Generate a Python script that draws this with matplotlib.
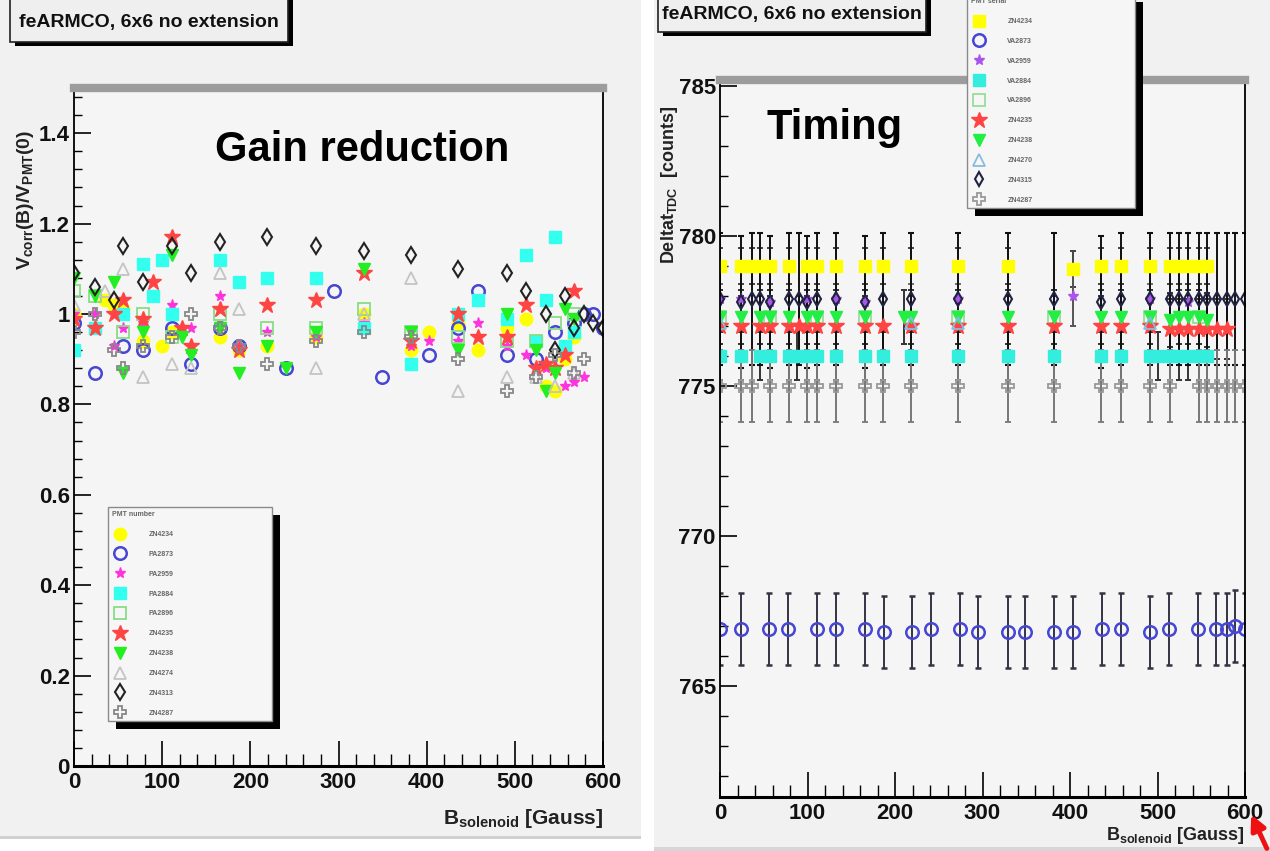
import matplotlib
matplotlib.use("Agg")
import matplotlib.pyplot as plt
from matplotlib.patches import Rectangle, FancyArrowPatch
from matplotlib.transforms import IdentityTransform
from matplotlib.ticker import MultipleLocator, FuncFormatter
from matplotlib.container import ErrorbarContainer

# ---------------- data ----------------
LABELS_GAIN = ["ZN4234", "PA2873", "PA2959", "PA2884", "PA2896",
               "ZN4235", "ZN4238", "ZN4274", "ZN4313", "ZN4287"]
LABELS_TIME = ["ZN4234", "VA2873", "VA2959", "VA2884", "VA2896",
               "ZN4235", "ZN4238", "ZN4270", "ZN4315", "ZN4287"]

# Gain reduction: B [Gauss] and V_corr(B)/V_PMT(0)
g_B_0 = [0, 35, 45, 56, 78, 100, 111, 166, 187, 219, 274, 329, 382, 403, 436, 458, 491, 513, 535, 546, 557, 567]
g_V_0 = [1.00, 1.03, 1.02, 1.01, 0.94, 0.93, 0.96, 0.95, 0.92, 0.93, 0.95, 1.00, 0.92, 0.96, 0.98, 0.92, 0.97, 0.99, 0.84, 0.83, 0.90, 0.95]
g_B_1 = [0, 24, 56, 78, 111, 133, 166, 187, 241, 295, 349, 403, 436, 458, 491, 524, 546, 567, 579, 589, 600]
g_V_1 = [0.98, 0.87, 0.93, 0.92, 0.97, 0.89, 0.97, 0.93, 0.88, 1.05, 0.86, 0.91, 0.97, 1.05, 0.91, 0.90, 0.96, 0.98, 1.00, 1.00, 0.97]
g_B_2 = [0, 24, 45, 56, 78, 111, 133, 166, 187, 219, 274, 329, 382, 403, 436, 458, 491, 513, 535, 557, 567, 579]
g_V_2 = [1.00, 1.00, 0.93, 0.97, 0.98, 1.02, 0.97, 1.04, 0.93, 0.96, 0.95, 0.98, 0.93, 0.94, 0.94, 0.98, 0.93, 0.91, 0.88, 0.84, 0.85, 0.86]
g_B_3 = [0, 24, 56, 78, 90, 100, 111, 166, 187, 219, 274, 329, 382, 436, 458, 491, 513, 524, 535, 546, 557, 567]
g_V_3 = [0.92, 0.97, 1.00, 1.11, 1.04, 1.12, 1.00, 1.12, 1.07, 1.08, 1.08, 0.97, 0.89, 1.00, 1.03, 0.99, 1.13, 0.94, 1.03, 1.17, 0.93, 0.96]
g_B_4 = [0, 24, 56, 78, 111, 166, 219, 274, 329, 382, 436, 491, 524, 546, 567]
g_V_4 = [1.05, 1.04, 0.96, 1.00, 0.95, 1.00, 0.97, 0.97, 1.01, 0.96, 0.95, 0.94, 0.94, 0.98, 1.00]
g_B_5 = [0, 24, 45, 56, 78, 90, 111, 122, 133, 166, 187, 219, 274, 329, 382, 436, 458, 491, 513, 524, 535, 546, 557, 567]
g_V_5 = [0.99, 0.97, 1.00, 1.03, 0.99, 1.07, 1.17, 0.97, 0.93, 1.01, 0.92, 1.02, 1.03, 1.09, 0.94, 1.00, 0.95, 0.95, 1.02, 0.88, 0.89, 0.88, 0.91, 1.05]
g_B_6 = [0, 24, 45, 56, 78, 111, 122, 133, 166, 187, 219, 241, 274, 329, 382, 436, 491, 524, 535, 546, 557, 567]
g_V_6 = [1.08, 1.04, 1.07, 0.87, 0.96, 1.13, 0.95, 0.91, 0.97, 0.87, 0.93, 0.88, 0.96, 1.10, 0.96, 0.92, 1.00, 0.92, 0.83, 0.87, 1.01, 0.99]
g_B_7 = [0, 35, 56, 78, 111, 133, 166, 187, 274, 329, 382, 436, 491, 524, 546, 567]
g_V_7 = [1.02, 1.05, 1.10, 0.86, 0.89, 0.88, 1.09, 1.01, 0.88, 1.00, 1.08, 0.83, 0.86, 0.86, 0.84, 0.87]
g_B_8 = [0, 24, 45, 56, 78, 111, 133, 166, 219, 274, 329, 382, 436, 491, 513, 535, 546, 557, 567, 579, 589, 600]
g_V_8 = [1.09, 1.06, 1.03, 1.15, 1.07, 1.15, 1.09, 1.16, 1.17, 1.15, 1.14, 1.13, 1.10, 1.09, 1.05, 1.00, 0.92, 1.04, 0.97, 1.00, 0.98, 0.97]
g_B_9 = [0, 24, 45, 56, 78, 111, 133, 166, 187, 219, 274, 329, 382, 436, 491, 524, 546, 567, 579]
g_V_9 = [0.96, 1.00, 0.92, 0.88, 0.93, 0.95, 1.00, 0.97, 0.93, 0.89, 0.94, 0.96, 0.95, 0.90, 0.83, 0.86, 0.91, 0.87, 0.90]

# Timing: B [Gauss], Deltat_TDC [counts], error
t_B_0 = [0, 24, 36, 46, 57, 79, 99, 111, 132, 166, 186, 218, 272, 329, 403, 435, 458, 491, 514, 525, 535, 547, 557]
t_T_0 = [779.0, 779.0, 779.0, 779.0, 779.0, 779.0, 779.0, 779.0, 779.0, 779.0, 779.0, 779.0, 779.0, 779.0, 778.9, 779.0, 779.0, 779.0, 779.0, 779.0, 779.0, 779.0, 779.0]
t_E_0 = 0.6
t_B_1 = [0, 24, 56, 78, 111, 133, 166, 187, 219, 241, 274, 295, 329, 349, 382, 403, 436, 458, 491, 513, 546, 567, 579, 589, 600]
t_T_1 = [766.9, 766.9, 766.9, 766.9, 766.9, 766.9, 766.9, 766.8, 766.8, 766.9, 766.9, 766.8, 766.8, 766.8, 766.8, 766.8, 766.9, 766.9, 766.8, 766.9, 766.9, 766.9, 766.9, 767.0, 766.9]
t_E_1 = 1.2
t_B_2 = [0, 24, 57, 99, 132, 166, 272, 403, 491, 535]
t_T_2 = [777.9, 777.9, 777.8, 777.9, 777.9, 777.8, 777.9, 778.0, 777.9, 777.8]
t_E_2 = 1.0
t_B_3 = [0, 24, 46, 57, 79, 88, 99, 111, 132, 166, 186, 218, 272, 329, 382, 435, 458, 491, 500, 514, 525, 535, 547, 557]
t_T_3 = [776.0, 776.0, 776.0, 776.0, 776.0, 776.0, 776.0, 776.0, 776.0, 776.0, 776.0, 776.0, 776.0, 776.0, 776.0, 776.0, 776.0, 776.0, 776.0, 776.0, 776.0, 776.0, 776.0, 776.0]
t_E_3 = 0.8
t_B_4 = [0, 57, 111, 166, 272, 382, 491, 547]
t_T_4 = [777.3, 777.3, 777.3, 777.3, 777.3, 777.3, 777.3, 777.3]
t_E_4 = 0.9
t_B_5 = [0, 24, 46, 57, 79, 90, 99, 111, 132, 166, 186, 218, 272, 329, 382, 435, 458, 491, 514, 525, 535, 547, 557, 568, 579]
t_T_5 = [777.0, 777.0, 777.0, 777.0, 777.0, 777.0, 777.0, 777.0, 777.0, 777.0, 777.0, 777.0, 777.0, 777.0, 777.0, 777.0, 777.0, 777.0, 776.9, 776.9, 776.9, 776.9, 776.9, 776.9, 776.9]
t_E_5 = 1.0
t_B_6 = [0, 24, 46, 57, 79, 99, 111, 132, 166, 210, 218, 272, 329, 382, 435, 458, 491, 514, 525, 535, 547, 557]
t_T_6 = [777.3, 777.3, 777.3, 777.3, 777.3, 777.3, 777.3, 777.3, 777.3, 777.3, 777.3, 777.3, 777.3, 777.3, 777.3, 777.3, 777.3, 777.2, 777.3, 777.3, 777.3, 777.2]
t_E_6 = 0.9
t_B_7 = [0, 218, 272, 491]
t_T_7 = [777.1, 777.1, 777.1, 777.1]
t_E_7 = 1.3
t_B_8 = [0, 24, 36, 46, 57, 79, 90, 99, 111, 132, 166, 186, 218, 272, 329, 382, 435, 458, 491, 514, 525, 535, 547, 557, 568, 579, 589, 600]
t_T_8 = [777.9, 777.8, 777.9, 777.9, 777.8, 777.9, 777.9, 777.8, 777.9, 777.9, 777.8, 777.9, 777.9, 777.9, 777.9, 777.9, 777.8, 777.9, 777.9, 777.9, 777.9, 777.9, 777.9, 777.9, 777.9, 777.9, 777.9, 777.9]
t_E_8 = 2.2
t_B_9 = [0, 24, 36, 57, 79, 99, 111, 132, 166, 186, 218, 272, 329, 382, 435, 458, 491, 514, 547, 557, 568, 579, 589, 600]
t_T_9 = [775.0, 775.0, 775.0, 775.0, 775.0, 775.0, 775.0, 775.0, 775.0, 775.0, 775.0, 775.0, 775.0, 775.0, 775.0, 775.0, 775.0, 775.0, 775.0, 775.0, 775.0, 775.0, 775.0, 775.0]
t_E_9 = 1.2

GAIN_X = [g_B_0, g_B_1, g_B_2, g_B_3, g_B_4, g_B_5, g_B_6, g_B_7, g_B_8, g_B_9]
GAIN_Y = [g_V_0, g_V_1, g_V_2, g_V_3, g_V_4, g_V_5, g_V_6, g_V_7, g_V_8, g_V_9]
TIME_X = [t_B_0, t_B_1, t_B_2, t_B_3, t_B_4, t_B_5, t_B_6, t_B_7, t_B_8, t_B_9]
TIME_Y = [t_T_0, t_T_1, t_T_2, t_T_3, t_T_4, t_T_5, t_T_6, t_T_7, t_T_8, t_T_9]
TIME_E = [t_E_0, t_E_1, t_E_2, t_E_3, t_E_4, t_E_5, t_E_6, t_E_7, t_E_8, t_E_9]

# ---------------- styles ----------------
GAIN_STYLE = [
    dict(marker="o", mfc="#ffff00", mec="#ffff00", ms=9),
    dict(marker="o", mfc="none", mec="#4646d2", mew=1.8, ms=9),
    dict(marker="*", mfc="#ff33dd", mec="#ff33dd", ms=8),
    dict(marker="s", mfc="#33ffee", mec="#33ffee", ms=9),
    dict(marker="s", mfc="none", mec="#88dd88", mew=1.3, ms=9),
    dict(marker="*", mfc="#ff4444", mec="#ff4444", ms=12),
    dict(marker="v", mfc="#22ee22", mec="#22ee22", ms=9),
    dict(marker="^", mfc="none", mec="#c4c4c4", mew=1.3, ms=9),
    dict(marker="d", mfc="none", mec="#222222", mew=1.5, ms=8),
    dict(marker="P", mfc="none", mec="#888888", mew=1.3, ms=9),
]
TIME_STYLE = [
    dict(marker="s", mfc="#ffff00", mec="#ffff00", ms=9),
    dict(marker="o", mfc="none", mec="#4646d2", mew=1.8, ms=9),
    dict(marker="*", mfc="#aa55ee", mec="#aa55ee", ms=8),
    dict(marker="s", mfc="#33eedd", mec="#33eedd", ms=9),
    dict(marker="s", mfc="none", mec="#99dd99", mew=1.3, ms=9),
    dict(marker="*", mfc="#ff4444", mec="#ff4444", ms=12),
    dict(marker="v", mfc="#22ee44", mec="#22ee44", ms=9),
    dict(marker="^", mfc="none", mec="#88bbdd", mew=1.3, ms=9),
    dict(marker="d", mfc="none", mec="#222244", mew=1.5, ms=7),
    dict(marker="P", mfc="none", mec="#999999", mew=1.3, ms=9),
]
ECOL = ["#444444", "#333344", "#555555", "#333333", "#555555",
        "#333333", "#333333", "#777777", "#111111", "#777777"]

W, H = 1270, 851
FONT = ["Liberation Sans", "DejaVu Sans"]
plt.rcParams["font.family"] = FONT
plt.rcParams["font.weight"] = "bold"
plt.rcParams["mathtext.fontset"] = "custom"
plt.rcParams["mathtext.rm"] = "Liberation Sans:bold"
plt.rcParams["mathtext.it"] = "Liberation Sans:bold"
plt.rcParams["mathtext.bf"] = "Liberation Sans:bold"

fig = plt.figure(figsize=(W / 100, H / 100), dpi=100)
fig.patch.set_facecolor("white")

def px_rect(x0, ytop, w, h, **kw):
    # rectangle given in image pixel coords (y measured from top)
    r = Rectangle((x0, H - ytop - h), w, h, transform=IdentityTransform(), **kw)
    fig.add_artist(r)
    return r

# panel backgrounds
px_rect(0, 0, 641, 838, fc="#f1f1f1", ec="none", zorder=-10)
px_rect(0, 836, 641, 3, fc="#d0d0d0", ec="none", zorder=-9)
px_rect(654, 0, 616, 851, fc="#f1f1f1", ec="none", zorder=-10)
px_rect(654, 847, 616, 4, fc="#d6d6d6", ec="none", zorder=-9)

def style_axes(ax, ylim, ymaj, ymin, yfmt):
    ax.set_facecolor("#f5f5f5")
    ax.set_xlim(0, 600)
    ax.set_ylim(*ylim)
    for s in ["left", "right"]:
        ax.spines[s].set_color("black")
        ax.spines[s].set_linewidth(1.3)
    ax.spines["bottom"].set_linewidth(2.2)
    ax.spines["top"].set_color("#9c9c9c")
    ax.spines["top"].set_linewidth(6)
    ax.xaxis.set_major_locator(MultipleLocator(100))
    ax.xaxis.set_minor_locator(MultipleLocator(20))
    ax.yaxis.set_major_locator(MultipleLocator(ymaj))
    ax.yaxis.set_minor_locator(MultipleLocator(ymin))
    ax.yaxis.set_major_formatter(FuncFormatter(yfmt))
    ax.xaxis.set_major_formatter(FuncFormatter(lambda v, p: "%d" % v))
    ax.tick_params(axis="x", which="major", direction="in", length=18, width=1.2,
                   labelsize=16, pad=4, top=False)
    ax.tick_params(axis="x", which="minor", direction="in", length=9, width=1.0, top=False)
    ax.tick_params(axis="y", which="major", direction="in", length=12, width=1.2,
                   labelsize=16, pad=3, right=False)
    ax.tick_params(axis="y", which="minor", direction="in", length=6, width=1.0, right=False)
    for lab in ax.get_xticklabels() + ax.get_yticklabels():
        lab.set_fontweight("bold")
        lab.set_color("#111111")

# ---------- left: gain reduction ----------
axL = fig.add_axes([74 / W, 1 - 766 / H, 529 / W, 678 / H])
style_axes(axL, (0, 1.5), 0.2, 0.04, lambda v, p: "%g" % round(v, 2))
for xs, ys, st, lab in zip(GAIN_X, GAIN_Y, GAIN_STYLE, LABELS_GAIN):
    axL.plot(xs, ys, linestyle="none", label=lab, **st)

# ---------- right: timing ----------
axR = fig.add_axes([720 / W, 1 - 797 / H, 525 / W, 717 / H])
style_axes(axR, (761.3, 785.2), 5, 1, lambda v, p: "%d" % round(v))
for xs, ys, e, st, lab, ec in zip(TIME_X, TIME_Y, TIME_E, TIME_STYLE, LABELS_TIME, ECOL):
    axR.errorbar(xs, ys, yerr=e, linestyle="none", ecolor=ec, elinewidth=1.4,
                 capsize=2.5, capthick=1.4, label=lab, **st)

# ---------- legends ----------
def make_legend(ax, x0, ytop, w, title):
    handles, labels = ax.get_legend_handles_labels()
    handles = [h.lines[0] if isinstance(h, ErrorbarContainer) else h for h in handles]
    leg = ax.legend(handles, labels, loc="upper left",
                    bbox_to_anchor=(x0 / W, 0.0, w / W, 1 - ytop / H),
                    bbox_transform=fig.transFigure, mode="expand", borderaxespad=0,
                    fontsize=5, title=title, title_fontsize=5, alignment="left",
                    labelspacing=1.85, handletextpad=3.0, handlelength=2.2,
                    borderpad=0.6, frameon=True, fancybox=False, framealpha=1)
    leg.get_frame().set_facecolor("#f6f6f6")
    leg.get_frame().set_edgecolor("#8a8a8a")
    leg.get_frame().set_linewidth(1.0)
    for t in leg.get_texts():
        t.set_color("#666666")
    leg.get_title().set_color("#666666")
    leg.set_zorder(10)
    return leg

legL = make_legend(axL, 108, 507, 164, "PMT number")
legR = make_legend(axR, 967, -6, 168, "PMT serial")

fig.canvas.draw()
for ax, leg in [(axL, legL), (axR, legR)]:
    bb = leg.get_window_extent()
    sh = Rectangle((bb.x0 + 8, bb.y0 - 8), bb.width, bb.height, transform=IdentityTransform(),
                   fc="black", ec="none", zorder=9.9, clip_on=False)
    ax.add_artist(sh)

# ---------- title boxes ----------
px_rect(15, -4, 278, 50, fc="black", ec="none", zorder=2)
px_rect(10, -8, 278, 50, fc="#efefef", ec="#222222", lw=1.2, zorder=2.1)
fig.text(149 / W, 1 - 22 / H, "feARMCO, 6x6 no extension", ha="center", va="center",
         fontsize=14, fontweight="bold", color="#111111", zorder=3)
px_rect(663, -4, 268, 40, fc="black", ec="none", zorder=2)
px_rect(658, -8, 268, 40, fc="#efefef", ec="#222222", lw=1.2, zorder=2.1)
fig.text(792 / W, 1 - 14 / H, "feARMCO, 6x6 no extension", ha="center", va="center",
         fontsize=14, fontweight="bold", color="#111111", zorder=3)

# ---------- axis titles ----------
fig.text(26 / W, 1 - 200 / H, r"V$_{corr}$(B)/V$_{PMT}$(0)", rotation=90,
         ha="center", va="center", fontsize=14, fontweight="bold", color="#222222")
fig.text(670 / W, 1 - 185 / H, r"Deltat$_{TDC}$  [counts]", rotation=90,
         ha="center", va="center", fontsize=13, fontweight="bold", color="#222222")
fig.text(603 / W, 1 - 819 / H, r"B$_{solenoid}$ [Gauss]", ha="right", va="center",
         fontsize=15, fontweight="bold", color="#222222")
fig.text(1245 / W, 1 - 836 / H, r"B$_{solenoid}$ [Gauss]", ha="right", va="center",
         fontsize=13, fontweight="bold", color="#222222")

# ---------- big annotations ----------
fig.text(362 / W, 1 - 150 / H, "Gain reduction", ha="center", va="center",
         fontsize=30, fontweight="bold", color="black")
fig.text(835 / W, 1 - 128 / H, "Timing", ha="center", va="center",
         fontsize=30, fontweight="bold", color="black")

# red arrow
fig.add_artist(FancyArrowPatch(
    (1268, 0), (1250, H - 812), transform=IdentityTransform(),
    arrowstyle="-|>", mutation_scale=22, color="#ee1111", lw=3.5, zorder=5))

fig.savefig("out.png", dpi=100)
